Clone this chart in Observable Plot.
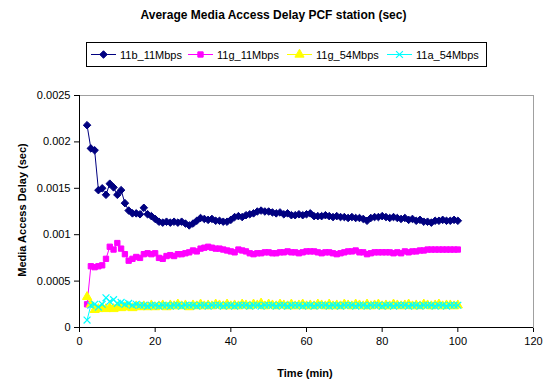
<!DOCTYPE html>
<html><head><meta charset="utf-8">
<script src="https://cdn.jsdelivr.net/npm/d3@7"></script>
<script src="https://cdn.jsdelivr.net/npm/@observablehq/plot@0.6"></script>
<style>
body{margin:0;background:#fff;font-family:Arial,"Liberation Sans",sans-serif;}
#wrap{position:relative;width:547px;height:385px;overflow:hidden;background:#fff;}
#title{position:absolute;left:0;top:8px;width:547px;text-align:center;font-weight:bold;font-size:12px;}
#ytitle{position:absolute;left:22px;top:210px;transform:translate(-50%,-50%) rotate(-90deg);font-weight:bold;font-size:11px;white-space:nowrap;}
#xtitle{position:absolute;left:305px;top:367px;transform:translateX(-50%);font-weight:bold;font-size:11px;white-space:nowrap;}
#legend{position:absolute;left:0;top:38px;}
#chart{position:absolute;left:0;top:72px;}
</style></head>
<body>
<div id="wrap">
<div id="title">Average Media Access Delay PCF station (sec)</div>
<div id="legend"></div>
<div id="chart"></div>
<div id="ytitle">Media Access Delay (sec)</div>
<div id="xtitle">Time (min)</div>
</div>
<script>
const seriesNames = ["11b_11Mbps","11g_11Mbps","11g_54Mbps","11a_54Mbps"];
const xTicks = [0,20,40,60,80,100,120];
const yTicks = [0,0.0005,0.001,0.0015,0.002,0.0025];
const time = [2,3,4,5,6,7,8,9,10,11,12,13,14,15,16,17,18,19,20,21,22,23,24,25,26,27,28,29,30,31,32,33,34,35,36,37,38,39,40,41,42,43,44,45,46,47,48,49,50,51,52,53,54,55,56,57,58,59,60,61,62,63,64,65,66,67,68,69,70,71,72,73,74,75,76,77,78,79,80,81,82,83,84,85,86,87,88,89,90,91,92,93,94,95,96,97,98,99,100];
const b11 = [0.00218,0.00193,0.00191,0.00148,0.00150,0.00143,0.00155,0.00151,0.00143,0.00148,0.00134,0.00126,0.00123,0.00123,0.00122,0.00129,0.00122,0.00120,0.00117,0.00114,0.00113,0.00114,0.00113,0.00114,0.00113,0.00114,0.00112,0.00110,0.00112,0.00115,0.00118,0.00117,0.00116,0.00117,0.00115,0.00115,0.00114,0.00114,0.00116,0.00119,0.00120,0.00119,0.00121,0.00122,0.00123,0.00125,0.00126,0.00125,0.00125,0.00124,0.00123,0.00124,0.00122,0.00123,0.00121,0.00121,0.00122,0.00121,0.00122,0.00123,0.00120,0.00120,0.00120,0.00121,0.00120,0.00119,0.00120,0.00119,0.00119,0.00118,0.00119,0.00118,0.00118,0.00117,0.00115,0.00118,0.00119,0.00119,0.00120,0.00119,0.00118,0.00119,0.00118,0.00117,0.00118,0.00116,0.00117,0.00115,0.00116,0.00114,0.00114,0.00113,0.00115,0.00115,0.00116,0.00115,0.00115,0.00116,0.00115];
const g11 = [0.00025,0.00066,0.00065,0.00066,0.00067,0.00074,0.00087,0.00084,0.00091,0.00085,0.00079,0.00072,0.00074,0.00076,0.00075,0.00079,0.00080,0.00079,0.00080,0.00075,0.00074,0.00077,0.00078,0.00077,0.00079,0.00079,0.00080,0.00081,0.00083,0.00082,0.00085,0.00086,0.00087,0.00086,0.00085,0.00085,0.00084,0.00083,0.00082,0.00081,0.00084,0.00083,0.00082,0.00080,0.00079,0.00080,0.00080,0.00081,0.00081,0.00080,0.00080,0.00081,0.00081,0.00082,0.00081,0.00081,0.00080,0.00081,0.00082,0.00082,0.00082,0.00081,0.00080,0.00081,0.00081,0.00080,0.00079,0.00080,0.00081,0.00082,0.00082,0.00083,0.00081,0.00081,0.00079,0.00080,0.00081,0.00081,0.00081,0.00081,0.00081,0.00080,0.00081,0.00080,0.00082,0.00081,0.00082,0.00082,0.00083,0.00083,0.00084,0.00084,0.00084,0.00084,0.00084,0.00084,0.00084,0.00084,0.00084];
const g54 = [0.00033,0.00025,0.00019,0.00020,0.00021,0.00020,0.00021,0.00020,0.00022,0.00021,0.00022,0.00022,0.00021,0.00023,0.00022,0.00023,0.00022,0.00024,0.00022,0.00023,0.00024,0.00022,0.00024,0.00023,0.00025,0.00023,0.00024,0.00022,0.00024,0.00023,0.00025,0.00023,0.00024,0.00023,0.00025,0.00024,0.00023,0.00025,0.00023,0.00024,0.00023,0.00025,0.00024,0.00023,0.00025,0.00024,0.00026,0.00023,0.00025,0.00024,0.00023,0.00025,0.00024,0.00023,0.00025,0.00023,0.00024,0.00025,0.00023,0.00024,0.00023,0.00025,0.00024,0.00023,0.00025,0.00023,0.00024,0.00023,0.00025,0.00024,0.00023,0.00025,0.00024,0.00023,0.00025,0.00023,0.00024,0.00025,0.00023,0.00024,0.00023,0.00025,0.00024,0.00023,0.00024,0.00025,0.00023,0.00024,0.00023,0.00025,0.00024,0.00023,0.00024,0.00025,0.00023,0.00024,0.00024,0.00023,0.00024];
const a54 = [0.00008,0.00024,0.00025,0.00022,0.00025,0.00032,0.00028,0.00030,0.00026,0.00027,0.00025,0.00026,0.00024,0.00025,0.00024,0.00024,0.00023,0.00024,0.00024,0.00023,0.00024,0.00024,0.00023,0.00024,0.00024,0.00023,0.00024,0.00024,0.00024,0.00023,0.00024,0.00024,0.00023,0.00024,0.00024,0.00024,0.00023,0.00024,0.00024,0.00023,0.00024,0.00024,0.00024,0.00023,0.00024,0.00024,0.00023,0.00024,0.00024,0.00024,0.00023,0.00024,0.00024,0.00023,0.00024,0.00024,0.00024,0.00023,0.00024,0.00024,0.00023,0.00024,0.00024,0.00024,0.00023,0.00024,0.00024,0.00023,0.00024,0.00024,0.00024,0.00023,0.00024,0.00024,0.00023,0.00024,0.00024,0.00024,0.00023,0.00024,0.00024,0.00023,0.00024,0.00024,0.00024,0.00023,0.00024,0.00024,0.00023,0.00024,0.00024,0.00024,0.00023,0.00024,0.00024,0.00023,0.00024,0.00024,0.00024];

const styles = [
  {color:"#000080", line:"#000080", symbol:"diamond2", fill:"#000080", r:3.4, sw:1},
  {color:"#ff00ff", line:"#ff00ff", symbol:"square", fill:"#ff00ff", r:3.0, sw:1},
  {color:"#ffff00", line:"#ffff00", symbol:"triangle", fill:"#ffff00", r:3.4, sw:1},
  {color:"#00ffff", line:"#00ffff", symbol:"times", fill:"none", r:3.2, sw:1.2}
];
const valuesList = [b11,g11,g54,a54];
const tables = valuesList.map((vals,i)=>time.map((t,j)=>({t, v: vals[j], s: seriesNames[i]})));

const marks = [
  Plot.frame({stroke:"#a0a0a0"}),
];
tables.forEach((tab,i)=>{
  const st = styles[i];
  marks.push(Plot.line(tab,{x:"t",y:"v",stroke:st.line,strokeWidth:1}));
  marks.push(Plot.dot(tab,{x:"t",y:"v",symbol:()=>st.symbol,r:st.r,
    fill: st.fill, stroke: st.color, strokeWidth: st.sw}));
});
marks.push(Plot.ruleX([0],{stroke:"#000"}));
marks.push(Plot.ruleY([0],{stroke:"#000"}));

const chart = Plot.plot({
  width:547, height:313,
  marginTop:23, marginRight:14, marginBottom:58, marginLeft:79,
  style:{fontFamily:"Arial, 'Liberation Sans', sans-serif", fontSize:"11px", color:"#000", background:"transparent"},
  x:{domain:[0,120], ticks:xTicks, label:null, tickSize:5, tickPadding:5},
  y:{domain:[0,0.0025], ticks:yTicks, tickFormat:d=>String(d), label:null, tickSize:5, tickPadding:4},
  symbol:{type:"identity"},
  marks
});
document.getElementById("chart").appendChild(chart);

// Legend
const lg = d3.select("#legend").append("svg").attr("width",547).attr("height",32);
lg.append("rect").attr("x",86.5).attr("y",4.5).attr("width",400).attr("height",24)
  .attr("fill","white").attr("stroke","#000").attr("stroke-width",1);
const lx = [91,188,287,387];
const symMap = {diamond2:d3.symbolDiamond2, square:d3.symbolSquare, triangle:d3.symbolTriangle, times:d3.symbolTimes};
seriesNames.forEach((name,i)=>{
  const st = styles[i];
  const g = lg.append("g").attr("transform",`translate(${lx[i]},16.5)`);
  g.append("line").attr("x1",0).attr("x2",25).attr("stroke",st.line).attr("stroke-width",1);
  g.append("path").attr("transform","translate(12.5,0)")
    .attr("d", d3.symbol(symMap[st.symbol], Math.PI*st.r*st.r)())
    .attr("fill", st.fill).attr("stroke", st.color).attr("stroke-width", st.sw);
  g.append("text").attr("x",29).attr("y",4).attr("font-size",11)
    .attr("font-family","Arial, 'Liberation Sans', sans-serif").text(name);
});
</script>
</body></html>
